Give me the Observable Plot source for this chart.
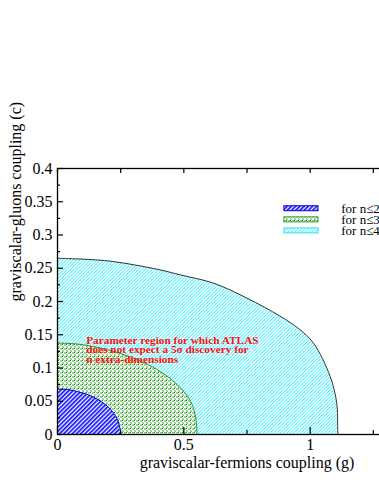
<!DOCTYPE html>
<html><head><meta charset="utf-8">
<script src="https://cdn.jsdelivr.net/npm/d3@7"></script>
<script src="https://cdn.jsdelivr.net/npm/@observablehq/plot@0.6"></script>
<style>html,body{margin:0;padding:0;overflow:hidden;background:#fff}
#chart svg{max-width:none !important;width:436px !important;height:491px !important;display:block}</style>
</head><body><div id="chart"></div>
<script>
// ---- data ----
const seriesNames = ["n≤2", "n≤3", "n≤4"];
const legendLabels = ["for n≤2", "for n≤3", "for n≤4"];
// n≤2 (blue)
const g2 = [0, 0.04, 0.119, 0.171, 0.211, 0.237, 0.248, 0.25];
const c2 = [0.068, 0.0675, 0.06, 0.05, 0.0375, 0.0225, 0.0075, 0];
// n≤3 (green)
const g3 = [0, 0.079, 0.198, 0.316, 0.395, 0.474, 0.527, 0.547, 0.552];
const c3 = [0.1375, 0.136, 0.1275, 0.1125, 0.0975, 0.075, 0.05, 0.025, 0];
// n≤4 (cyan)
const g4 = [0, 0.2, 0.4, 0.486, 0.618, 0.75, 0.881, 0.955, 1.013, 1.079, 1.105, 1.109, 1.11];
const c4 = [0.265, 0.261, 0.248, 0.24, 0.2275, 0.205, 0.178, 0.159, 0.1375, 0.0875, 0.0475, 0.0075, 0];

const xTicks = [0, 0.5, 1];
const xMinorTicks = [0.25, 0.75, 1.25];
const yTicks = [0, 0.05, 0.1, 0.15, 0.2, 0.25, 0.3, 0.35, 0.4];
const yTickLabels = ["0", "0.05", "0.1", "0.15", "0.2", "0.25", "0.3", "0.35", "0.4"];
const yMinorTicks = [0.025, 0.075, 0.125, 0.175, 0.225, 0.275, 0.325, 0.375];
const xLabel = "graviscalar-fermions coupling (g)";
const yLabel = "graviscalar-gluons coupling (c)";
const annotationLines = ["Parameter region for which ATLAS", "does not expect a 5σ discovery for", "n extra-dimensions"];

// ---- build tables ----
const toRows = (gs, cs) => gs.map((g, i) => ({g, c: cs[i]}));
const rows2 = toRows(g2, c2), rows3 = toRows(g3, c3), rows4 = toRows(g4, c4);

// ---- layout ----
const W = 436, H = 491, ML = 57, MR = 0, MT = 168, MB = 57;
const frameW = W - ML - MR, frameH = H - MT - MB;

// hatch patterns
function patternDefs() {
  const ns = "http://www.w3.org/2000/svg";
  const g = document.createElementNS(ns, "g");
  g.innerHTML = `
  <defs>
    <pattern id="hatchBlue" patternUnits="userSpaceOnUse" width="3" height="3" patternTransform="rotate(45)">
      <rect width="3" height="3" fill="#fff"/>
      <rect width="1.7" height="3" fill="#1010ff"/>
    </pattern>
    <pattern id="hatchCyan" patternUnits="userSpaceOnUse" width="2.4" height="2.4" patternTransform="rotate(45)">
      <rect width="2.4" height="2.4" fill="#fff"/>
      <rect width="0.9" height="2.4" fill="#40eeff"/>
    </pattern>
    <pattern id="hatchGreen" patternUnits="userSpaceOnUse" width="4" height="4">
      <rect width="4" height="4" fill="#fff"/>
      <rect x="0" y="0" width="2" height="2" fill="#98d498"/>
      <rect x="2" y="2" width="2" height="2" fill="#98d498"/>
      <rect x="2" y="0" width="1" height="1" fill="#139013"/>
    </pattern>
  </defs>`;
  return g;
}

const fills = ["url(#hatchBlue)", "url(#hatchGreen)", "url(#hatchCyan)"];
const strokes = ["#0000cc", "#2a962a", "#333333"];
const swatchStrokes = ["#0000cc", "#2a962a", "#33e0f0"];

// legend placement (data units)
const legX1 = 0.898, legX2 = 1.033, legText = 1.123;
const legY = [0.3395, 0.3228, 0.3062];
const legH = 0.0075;
const legendRows = seriesNames.map((s, i) => ({s, label: legendLabels[i], y: legY[i], fill: fills[i], stroke: swatchStrokes[i]}));

const chart = Plot.plot({
  width: W, height: H,
  marginLeft: ML, marginRight: MR, marginTop: MT, marginBottom: MB,
  x: {domain: [0, 1.5]},
  y: {domain: [0, 0.4]},
  style: {fontFamily: "'Liberation Serif', 'Times New Roman', serif", fontSize: "16px", background: "#fff", color: "#000", maxWidth: "none"},
  marks: [
    patternDefs,
    Plot.areaY(rows4, {x: "g", y: "c", fill: fills[2], curve: "catmull-rom"}),
    Plot.line(rows4, {x: "g", y: "c", stroke: strokes[2], strokeWidth: 1, curve: "catmull-rom"}),
    Plot.areaY(rows3, {x: "g", y: "c", fill: fills[1], curve: "catmull-rom"}),
    Plot.line(rows3, {x: "g", y: "c", stroke: strokes[1], strokeWidth: 1, curve: "catmull-rom"}),
    Plot.areaY(rows2, {x: "g", y: "c", fill: fills[0], curve: "catmull-rom"}),
    Plot.line(rows2, {x: "g", y: "c", stroke: strokes[0], strokeWidth: 1, curve: "catmull-rom"}),
    Plot.text([annotationLines.join("\n")], {
      x: 0.1136, y: 0.146, text: d => d, textAnchor: "start", lineAnchor: "top",
      fill: "#ff1010", fontWeight: "bold", fontSize: 11.3, lineHeight: 0.82
    }),
    Plot.frame({stroke: "#000", strokeWidth: 1.3}),
    // inward ticks
    Plot.tickY(yTicks, {y: d => d, insetRight: frameW - 6, strokeWidth: 1.2}),
    Plot.tickY(yMinorTicks, {y: d => d, insetRight: frameW - 3, strokeWidth: 1.2}),
    Plot.tickX(xTicks, {x: d => d, insetTop: frameH - 7, strokeWidth: 1.2}),
    Plot.tickX(xMinorTicks, {x: d => d, insetTop: frameH - 4, strokeWidth: 1.2}),
    Plot.tickX([...xTicks, ...xMinorTicks], {x: d => d, insetBottom: frameH - 5, strokeWidth: 1.2}),
    Plot.axisY(yTicks, {anchor: "left", tickSize: 0, tickPadding: 5, tickFormat: (d, i) => yTickLabels[i], label: null, fontSize: 16}),
    Plot.axisX(xTicks, {anchor: "bottom", tickSize: 0, tickPadding: 4, tickFormat: d => String(d), label: null, fontSize: 16}),
    Plot.text([xLabel], {frameAnchor: "bottom", dy: 28, text: d => d, lineAnchor: "middle", fontSize: 16}),
    Plot.text([yLabel], {frameAnchor: "left", dx: -42, rotate: -90, text: d => d, lineAnchor: "middle", fontSize: 16}),
    // legend
    Plot.rect(legendRows, {x1: legX1, x2: legX2, y1: d => d.y - legH / 2, y2: d => d.y + legH / 2, fill: d => d.fill, stroke: d => d.stroke, strokeWidth: 1}),
    Plot.text(legendRows, {x: legText, y: "y", text: "label", textAnchor: "start", lineAnchor: "middle", fontSize: 13})
  ]
});
document.getElementById("chart").appendChild(chart);
</script>
</body></html>
